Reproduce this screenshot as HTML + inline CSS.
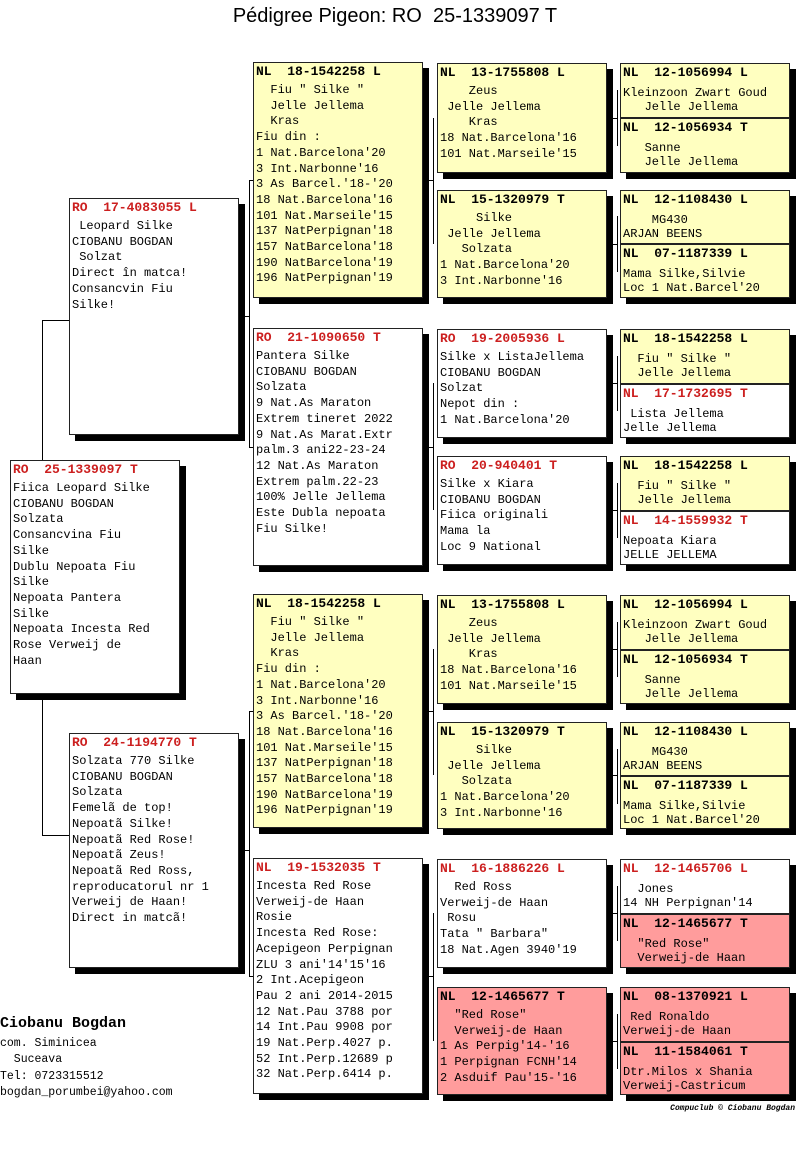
<!DOCTYPE html>
<html><head><meta charset="utf-8"><style>
body{margin:0;width:800px;height:1149px;background:#fff;position:relative;overflow:hidden;font-family:"Liberation Mono",monospace;}
.b{position:absolute;width:170px;border:1px solid #222;box-sizing:border-box;background:#fff;box-shadow:6px 6px 0 #000;padding:1px 1px 0 2px;overflow:hidden;}
.y{background:#ffffc0}.p{background:#ff9c9c}
.h{font-weight:bold;font-size:13px;line-height:16px;white-space:pre;color:#000}
.r{color:#cc1f1f}
.t{font-size:12px;line-height:15.7px;white-space:pre;margin-top:3px;color:#000}
.s .t{line-height:14px;margin-top:5px}
.l{position:absolute;background:#000}
</style></head><body>
<div style="position:absolute;left:0;width:790px;top:5px;text-align:center;font-family:'Liberation Sans',sans-serif;font-size:20px;">Pédigree Pigeon: RO&nbsp;&nbsp;25-1339097 T</div>

<!-- connectors -->
<div class="l" style="left:42px;top:320px;width:1px;height:515px"></div>
<div class="l" style="left:42px;top:320px;width:27px;height:1px"></div>
<div class="l" style="left:42px;top:835px;width:27px;height:1px"></div>

<div class="l" style="left:249px;top:180px;width:1px;height:267px"></div>
<div class="l" style="left:249px;top:180px;width:4px;height:1px"></div>
<div class="l" style="left:249px;top:447px;width:4px;height:1px"></div>
<div class="l" style="left:239px;top:316px;width:10px;height:1px"></div>

<div class="l" style="left:249px;top:711px;width:1px;height:265px"></div>
<div class="l" style="left:249px;top:711px;width:4px;height:1px"></div>
<div class="l" style="left:249px;top:976px;width:4px;height:1px"></div>
<div class="l" style="left:239px;top:850px;width:10px;height:1px"></div>

<div class="l" style="left:433px;top:118px;width:1px;height:126px"></div>
<div class="l" style="left:423px;top:180px;width:10px;height:1px"></div>
<div class="l" style="left:433px;top:383px;width:1px;height:127px"></div>
<div class="l" style="left:423px;top:447px;width:10px;height:1px"></div>
<div class="l" style="left:433px;top:649px;width:1px;height:126px"></div>
<div class="l" style="left:423px;top:711px;width:10px;height:1px"></div>
<div class="l" style="left:433px;top:913px;width:1px;height:128px"></div>
<div class="l" style="left:423px;top:976px;width:10px;height:1px"></div>

<div class="l" style="left:617px;top:90px;width:1px;height:56px"></div>
<div class="l" style="left:607px;top:118px;width:10px;height:1px"></div>
<div class="l" style="left:617px;top:216px;width:1px;height:56px"></div>
<div class="l" style="left:607px;top:244px;width:10px;height:1px"></div>
<div class="l" style="left:617px;top:356px;width:1px;height:55px"></div>
<div class="l" style="left:607px;top:383px;width:10px;height:1px"></div>
<div class="l" style="left:617px;top:483px;width:1px;height:55px"></div>
<div class="l" style="left:607px;top:510px;width:10px;height:1px"></div>
<div class="l" style="left:617px;top:622px;width:1px;height:55px"></div>
<div class="l" style="left:607px;top:649px;width:10px;height:1px"></div>
<div class="l" style="left:617px;top:749px;width:1px;height:55px"></div>
<div class="l" style="left:607px;top:775px;width:10px;height:1px"></div>
<div class="l" style="left:617px;top:886px;width:1px;height:55px"></div>
<div class="l" style="left:607px;top:913px;width:10px;height:1px"></div>
<div class="l" style="left:617px;top:1014px;width:1px;height:55px"></div>
<div class="l" style="left:607px;top:1041px;width:10px;height:1px"></div>

<!-- col1 -->
<div class="b" style="left:10px;top:460px;height:234px"><div class="h r">RO  25-1339097 T</div><div class="t">Fiica Leopard Silke
CIOBANU BOGDAN
Solzata
Consancvina Fiu
Silke
Dublu Nepoata Fiu
Silke
Nepoata Pantera
Silke
Nepoata Incesta Red
Rose Verweij de
Haan</div></div>

<!-- col2 -->
<div class="b" style="left:69px;top:198px;height:237px"><div class="h r">RO  17-4083055 L</div><div class="t"> Leopard Silke
CIOBANU BOGDAN
 Solzat
Direct în matca!
Consancvin Fiu
Silke!</div></div>
<div class="b" style="left:69px;top:733px;height:235px"><div class="h r">RO  24-1194770 T</div><div class="t">Solzata 770 Silke
CIOBANU BOGDAN
Solzata
Femelã de top!
Nepoatã Silke!
Nepoatã Red Rose!
Nepoatã Zeus!
Nepoatã Red Ross,
reproducatorul nr 1
Verweij de Haan!
Direct in matcã!</div></div>

<!-- col3 -->
<div class="b y" style="left:253px;top:62px;height:236px"><div class="h">NL  18-1542258 L</div><div class="t">  Fiu " Silke "
  Jelle Jellema
  Kras
Fiu din :
1 Nat.Barcelona'20
3 Int.Narbonne'16
3 As Barcel.'18-'20
18 Nat.Barcelona'16
101 Nat.Marseile'15
137 NatPerpignan'18
157 NatBarcelona'18
190 NatBarcelona'19
196 NatPerpignan'19</div></div>
<div class="b" style="left:253px;top:328px;height:238px"><div class="h r">RO  21-1090650 T</div><div class="t">Pantera Silke
CIOBANU BOGDAN
Solzata
9 Nat.As Maraton
Extrem tineret 2022
9 Nat.As Marat.Extr
palm.3 ani22-23-24
12 Nat.As Maraton
Extrem palm.22-23
100% Jelle Jellema
Este Dubla nepoata
Fiu Silke!</div></div>
<div class="b y" style="left:253px;top:594px;height:234px"><div class="h">NL  18-1542258 L</div><div class="t">  Fiu " Silke "
  Jelle Jellema
  Kras
Fiu din :
1 Nat.Barcelona'20
3 Int.Narbonne'16
3 As Barcel.'18-'20
18 Nat.Barcelona'16
101 Nat.Marseile'15
137 NatPerpignan'18
157 NatBarcelona'18
190 NatBarcelona'19
196 NatPerpignan'19</div></div>
<div class="b" style="left:253px;top:858px;height:236px"><div class="h r">NL  19-1532035 T</div><div class="t">Incesta Red Rose
Verweij-de Haan
Rosie
Incesta Red Rose:
Acepigeon Perpignan
ZLU 3 ani'14'15'16
2 Int.Acepigeon
Pau 2 ani 2014-2015
12 Nat.Pau 3788 por
14 Int.Pau 9908 por
19 Nat.Perp.4027 p.
52 Int.Perp.12689 p
32 Nat.Perp.6414 p.</div></div>

<!-- col4 -->
<div class="b y" style="left:437px;top:63px;height:110px"><div class="h">NL  13-1755808 L</div><div class="t">    Zeus
 Jelle Jellema
    Kras
18 Nat.Barcelona'16
101 Nat.Marseile'15</div></div>
<div class="b y" style="left:437px;top:190px;height:108px"><div class="h">NL  15-1320979 T</div><div class="t">     Silke
 Jelle Jellema
   Solzata
1 Nat.Barcelona'20
3 Int.Narbonne'16</div></div>
<div class="b" style="left:437px;top:329px;height:109px"><div class="h r">RO  19-2005936 L</div><div class="t">Silke x ListaJellema
CIOBANU BOGDAN
Solzat
Nepot din :
1 Nat.Barcelona'20</div></div>
<div class="b" style="left:437px;top:456px;height:109px"><div class="h r">RO  20-940401 T</div><div class="t">Silke x Kiara
CIOBANU BOGDAN
Fiica originali
Mama la
Loc 9 National</div></div>
<div class="b y" style="left:437px;top:595px;height:109px"><div class="h">NL  13-1755808 L</div><div class="t">    Zeus
 Jelle Jellema
    Kras
18 Nat.Barcelona'16
101 Nat.Marseile'15</div></div>
<div class="b y" style="left:437px;top:722px;height:107px"><div class="h">NL  15-1320979 T</div><div class="t">     Silke
 Jelle Jellema
   Solzata
1 Nat.Barcelona'20
3 Int.Narbonne'16</div></div>
<div class="b" style="left:437px;top:859px;height:109px"><div class="h r">NL  16-1886226 L</div><div class="t">  Red Ross
Verweij-de Haan
 Rosu
Tata " Barbara"
18 Nat.Agen 3940'19</div></div>
<div class="b p" style="left:437px;top:987px;height:108px"><div class="h">NL  12-1465677 T</div><div class="t">  "Red Rose"
  Verweij-de Haan
1 As Perpig'14-'16
1 Perpignan FCNH'14
2 Asduif Pau'15-'16</div></div>

<!-- col5 -->
<div class="b y s" style="left:620px;top:63px;height:55px"><div class="h">NL  12-1056994 L</div><div class="t">Kleinzoon Zwart Goud
   Jelle Jellema</div></div>
<div class="b y s" style="left:620px;top:118px;height:55px"><div class="h">NL  12-1056934 T</div><div class="t">   Sanne
   Jelle Jellema</div></div>
<div class="b y s" style="left:620px;top:190px;height:54px"><div class="h">NL  12-1108430 L</div><div class="t">    MG430
ARJAN BEENS</div></div>
<div class="b y s" style="left:620px;top:244px;height:54px"><div class="h">NL  07-1187339 L</div><div class="t">Mama Silke,Silvie
Loc 1 Nat.Barcel'20</div></div>
<div class="b y s" style="left:620px;top:329px;height:55px"><div class="h">NL  18-1542258 L</div><div class="t">  Fiu " Silke "
  Jelle Jellema</div></div>
<div class="b s" style="left:620px;top:384px;height:54px"><div class="h r">NL  17-1732695 T</div><div class="t"> Lista Jellema
Jelle Jellema</div></div>
<div class="b y s" style="left:620px;top:456px;height:55px"><div class="h">NL  18-1542258 L</div><div class="t">  Fiu " Silke "
  Jelle Jellema</div></div>
<div class="b s" style="left:620px;top:511px;height:54px"><div class="h r">NL  14-1559932 T</div><div class="t">Nepoata Kiara
JELLE JELLEMA</div></div>
<div class="b y s" style="left:620px;top:595px;height:55px"><div class="h">NL  12-1056994 L</div><div class="t">Kleinzoon Zwart Goud
   Jelle Jellema</div></div>
<div class="b y s" style="left:620px;top:650px;height:54px"><div class="h">NL  12-1056934 T</div><div class="t">   Sanne
   Jelle Jellema</div></div>
<div class="b y s" style="left:620px;top:722px;height:54px"><div class="h">NL  12-1108430 L</div><div class="t">    MG430
ARJAN BEENS</div></div>
<div class="b y s" style="left:620px;top:776px;height:53px"><div class="h">NL  07-1187339 L</div><div class="t">Mama Silke,Silvie
Loc 1 Nat.Barcel'20</div></div>
<div class="b s" style="left:620px;top:859px;height:55px"><div class="h r">NL  12-1465706 L</div><div class="t">  Jones
14 NH Perpignan'14</div></div>
<div class="b p s" style="left:620px;top:914px;height:54px"><div class="h">NL  12-1465677 T</div><div class="t">  "Red Rose"
  Verweij-de Haan</div></div>
<div class="b p s" style="left:620px;top:987px;height:55px"><div class="h">NL  08-1370921 L</div><div class="t"> Red Ronaldo
Verweij-de Haan</div></div>
<div class="b p s" style="left:620px;top:1042px;height:53px"><div class="h">NL  11-1584061 T</div><div class="t">Dtr.Milos x Shania
Verweij-Castricum</div></div>

<!-- footer -->
<div style="position:absolute;left:0;top:1015px;font-weight:bold;font-size:15px;white-space:pre">Ciobanu Bogdan</div>
<div style="position:absolute;left:0;top:1036px;font-size:11.5px;line-height:16.3px;white-space:pre">com. Siminicea
  Suceava
Tel: 0723315512
bogdan_porumbei@yahoo.com</div>
<div style="position:absolute;right:5px;top:1104px;font-size:8px;font-style:italic;font-weight:bold;white-space:pre">Compuclub © Ciobanu Bogdan</div>
</body></html>
